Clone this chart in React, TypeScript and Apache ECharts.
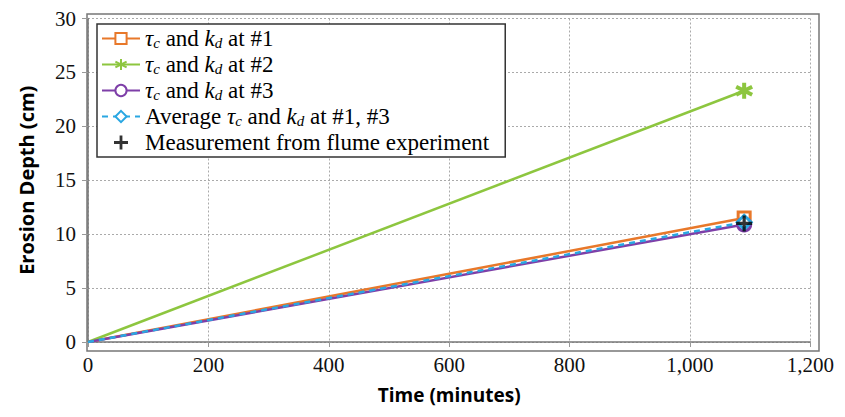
import React, { useEffect, useRef } from "react";
import * as echarts from "echarts";

const seriesNames = [
  "{i|τ}{s|c} {n|and} {i|k}{s|d} {n|at #1}",
  "{i|τ}{s|c} {n|and} {i|k}{s|d} {n|at #2}",
  "{i|τ}{s|c} {n|and} {i|k}{s|d} {n|at #3}",
  "{n|Average} {i|τ}{s|c} {n|and} {i|k}{s|d} {n|at #1, #3}",
  "{n|Measurement from flume experiment}",
];
const timeMinutes = [0, 1090];
const site1Depth = [0, 11.5];
const site2Depth = [0, 23.3];
const site3Depth = [0, 10.9];
const averageDepth = [0, 11.1];
const measuredTime = [1090];
const measuredDepth = [11.0];
const xTicks = [0, 200, 400, 600, 800, 1000, 1200];

const colors = ["#E8782A", "#8DC63F", "#7E3FA8", "#2AA7E2", "#000000"];
const serif = "'Liberation Serif', 'Times New Roman', serif";

const ASTERISK = "path://M5,0L5,10M0.7,2.5L9.3,7.5M0.7,7.5L9.3,2.5";
const PLUS = "path://M4,0H6V4H10V6H6V10H4V6H0V4H4Z";

function lineData(ys: number[]) {
  return timeMinutes.map((t, i) =>
    i === timeMinutes.length - 1 ? { value: [t, ys[i]] } : { value: [t, ys[i]], symbol: "none" }
  );
}

export default function App() {
  const ref = useRef<HTMLDivElement>(null);
  useEffect(() => {
    if (!ref.current) return;
    const chart = echarts.init(ref.current, null, { renderer: "svg" });
    const rich = {
      i: { fontFamily: serif, fontStyle: "italic", fontSize: 23, color: "#000", lineHeight: 22 },
      s: { fontFamily: serif, fontStyle: "italic", fontSize: 15, color: "#000", padding: [8, 0, 0, 0], lineHeight: 14 },
      n: { fontFamily: serif, fontSize: 23, color: "#000", lineHeight: 22 },
    };
    const mk = (idx: number, ys: number[], symbol: string, size: number, dashed = false) => ({
      name: seriesNames[idx],
      type: "line",
      data: lineData(ys),
      symbol,
      symbolSize: size,
      showSymbol: true,
      lineStyle: { color: colors[idx], width: 2.5, type: dashed ? [6, 5] : "solid" },
      itemStyle: {
        color: symbol === ASTERISK ? colors[idx] : "#fff",
        borderColor: colors[idx],
        borderWidth: symbol === ASTERISK ? 4 : 3,
      },
      z: 3 + idx,
    });
    chart.setOption({
      animation: false,
      grid: { left: 79, right: 18, top: 6, bottom: 58, containLabel: false },
      legend: {
        left: 89,
        top: 16,
        orient: "vertical",
        backgroundColor: "#fff",
        borderColor: "#333",
        borderWidth: 1.5,
        borderRadius: 0,
        padding: [3, 16, 3, 4],
        itemGap: 3,
        itemWidth: 38,
        itemHeight: 14,
        textStyle: { fontFamily: serif, fontSize: 23, color: "#000", rich },
        data: seriesNames.map((n, i) => ({
          name: n,
          itemStyle: i === 4 ? { color: "#000", borderWidth: 0 } : undefined,
        })),
      },
      xAxis: {
        type: "value",
        min: 0,
        max: 1200,
        interval: 200,
        name: "Time (minutes)",
        nameLocation: "middle",
        nameGap: 43,
        nameTextStyle: { fontFamily: "'Open Sans', sans-serif", fontWeight: "bold", fontSize: 19, color: "#000" },
        axisLine: { show: true, lineStyle: { color: "#777", width: 1.5 } },
        axisTick: { show: true, length: 5, lineStyle: { color: "#999" } },
        axisLabel: {
          fontFamily: serif,
          fontSize: 21,
          color: "#111",
          margin: 12,
          formatter: (v: number) => (xTicks.includes(v) ? v.toLocaleString("en-US") : ""),
        },
        splitLine: { show: true, lineStyle: { color: "#aaa", type: [2, 2] } },
      },
      yAxis: {
        type: "value",
        min: 0,
        max: 30,
        interval: 5,
        name: "Erosion Depth (cm)",
        nameLocation: "middle",
        nameGap: 52,
        nameTextStyle: { fontFamily: "'Open Sans', sans-serif", fontWeight: "bold", fontSize: 20, color: "#000" },
        axisLine: { show: true, lineStyle: { color: "#777", width: 1.5 } },
        axisTick: { show: true, length: 6, lineStyle: { color: "#999" } },
        axisLabel: { fontFamily: serif, fontSize: 21, color: "#111", margin: 12 },
        splitLine: { show: true, lineStyle: { color: "#aaa", type: [2, 2] } },
      },
      graphic: [
        {
          type: "rect",
          shape: { x: 79, y: 6, width: 732, height: 337 },
          style: { fill: "none", stroke: "#777", lineWidth: 1.5 },
          silent: true,
          z: 0,
        },
      ],
      series: [
        mk(1, site2Depth, ASTERISK, 16),
        mk(0, site1Depth, "rect", 12),
        mk(2, site3Depth, "circle", 13),
        mk(3, averageDepth, "diamond", 14, true),
        {
          name: seriesNames[4],
          type: "scatter",
          data: measuredTime.map((t, i) => [t, measuredDepth[i]]),
          symbol: PLUS,
          symbolSize: 16,
          itemStyle: { color: "#000" },
          z: 10,
        },
      ],
    });
    return () => chart.dispose();
  }, []);
  return <div ref={ref} style={{ width: 829, height: 401 }} />;
}
